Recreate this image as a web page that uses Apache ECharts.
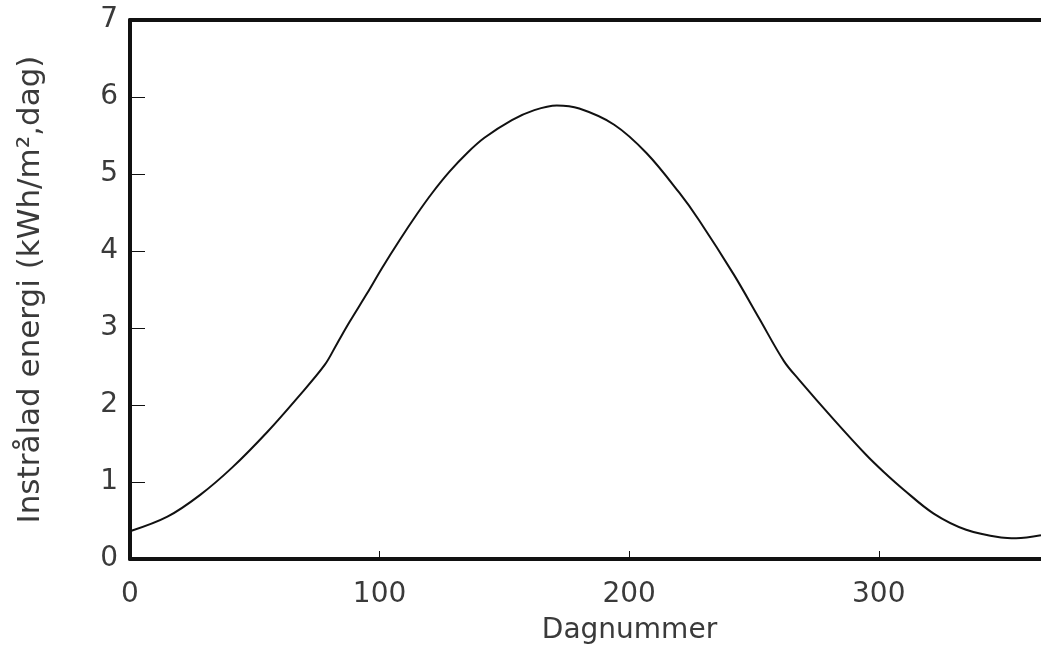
<!DOCTYPE html>
<html>
<head>
<meta charset="utf-8">
<style>
  html, body { margin: 0; padding: 0; background: #fff; }
  #chart { width: 1041px; height: 652px; }
</style>
<script src="https://cdn.jsdelivr.net/npm/echarts@6/dist/echarts.min.js"></script>
</head>
<body>
<div id="chart"></div>
<script>
// Daily insolation over the year: day number and energy in kWh/m² per day
const days = [0, 15, 28, 41, 55, 67, 78, 83, 88, 95, 101, 108, 115, 121, 128, 135, 142, 153, 162, 171,
              180, 194, 207, 220, 228, 242, 252, 262, 268, 282, 295, 302, 310, 322, 335, 349, 355, 365];
const energy = [0.36, 0.55, 0.83, 1.19, 1.65, 2.09, 2.52, 2.80, 3.08, 3.45, 3.78, 4.14, 4.48, 4.75, 5.03, 5.27, 5.47, 5.70, 5.83, 5.89,
                5.85, 5.64, 5.27, 4.76, 4.40, 3.69, 3.13, 2.57, 2.33, 1.81, 1.35, 1.13, 0.90, 0.59, 0.38, 0.28, 0.27, 0.31];
const xTicks = [0, 100, 200, 300];
const xTitle = 'Dagnummer';
const yTitle = 'Instrålad energi (kWh/m²,dag)';

const points = days.map((d, i) => [d, energy[i]]);

const font = '"DejaVu Sans", Verdana, sans-serif';
const ink = '#111';
const textInk = '#3a3a3a';

const chart = echarts.init(document.getElementById('chart'), null, { renderer: 'canvas' });
chart.setOption({
  animation: false,
  backgroundColor: '#fff',
  grid: { left: 130, right: 0, top: 20, bottom: 93, containLabel: false },
  xAxis: [
    {
      type: 'value',
      position: 'bottom',
      min: 0,
      max: 365,
      name: xTitle,
      nameLocation: 'middle',
      nameGap: 58,
      nameTextStyle: { fontFamily: font, fontSize: 28, color: textInk, padding: [0, 0, 0, 88] },
      axisLine: { show: true, lineStyle: { color: ink, width: 4 } },
      axisTick: { show: true, inside: true, length: 8, customValues: xTicks, lineStyle: { color: ink, width: 1 } },
      axisLabel: { customValues: xTicks, margin: 22, fontFamily: font, fontSize: 28, color: textInk },
      splitLine: { show: false }
    },
    {
      type: 'value',
      position: 'top',
      min: 0,
      max: 365,
      axisLine: { show: true, onZero: false, lineStyle: { color: ink, width: 4 } },
      axisTick: { show: false },
      axisLabel: { show: false },
      splitLine: { show: false }
    }
  ],
  yAxis: {
    type: 'value',
    min: 0,
    max: 7,
    interval: 1,
    name: yTitle,
    nameLocation: 'middle',
    nameGap: 84,
    nameTextStyle: { fontFamily: font, fontSize: 31, color: textInk },
    axisLine: { show: true, lineStyle: { color: ink, width: 4 } },
    axisTick: { show: true, inside: true, length: 15, lineStyle: { color: ink, width: 1 } },
    axisLabel: { margin: 12, fontFamily: font, fontSize: 28, color: textInk },
    splitLine: { show: false }
  },
  series: [{
    type: 'line',
    xAxisIndex: 0,
    data: points,
    smooth: 0.35,
    showSymbol: false,
    lineStyle: { color: ink, width: 2 }
  }]
});
</script>
</body>
</html>
